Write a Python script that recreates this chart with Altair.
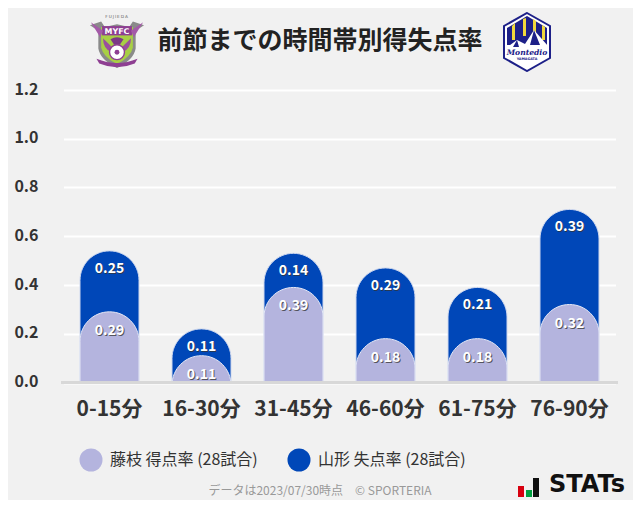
import altair as alt
import pandas as pd
from urllib.parse import quote

periods = ["0-15分", "16-30分", "31-45分", "46-60分", "61-75分", "76-90分"]
scored = [0.29, 0.11, 0.39, 0.18, 0.18, 0.32]
conceded = [0.25, 0.11, 0.14, 0.29, 0.21, 0.39]
y_ticks = [0, 0.2, 0.4, 0.6, 0.8, 1.0, 1.2]
title_text = "前節までの時間帯別得失点率"
legend_names = ["藤枝 得点率 (28試合)", "山形 失点率 (28試合)"]
footer_text = "データは2023/07/30時点　© SPORTERIA"
FONT = "Noto Sans CJK JP"
LIGHT, DARK = "#b4b4de", "#0047b8"
BG = "#f1f1f1"
OX, OY = 61, 90  # plot origin on the page

CREST_FUJIEDA = """<svg xmlns='http://www.w3.org/2000/svg' viewBox='0 0 60 60'>
<text x='30' y='5' font-size='4.6' letter-spacing='1' text-anchor='middle' font-family='DejaVu Sans' fill='#666'>FUJIEDA</text>
<path d='M1 13 L13 9 L17 15 L30 12 L43 15 L47 9 L59 13 L50 19 L50 38 Q48 50 30 59 Q12 50 10 38 L10 19 Z' fill='#8a8a8a'/>
<path d='M13 15 H47 V37 Q45 47 30 55 Q15 47 13 37 Z' fill='#a8cf45'/>
<rect x='14' y='14' width='32' height='10' fill='#8e3f92'/>
<text x='30' y='22.5' font-size='8.5' font-weight='bold' text-anchor='middle' font-family='DejaVu Sans' fill='#fff'>MYFC</text>
<path d='M2 10 L15 19 L12 26 Z M58 10 L45 19 L48 26 Z' fill='#a45aa8'/>
<path d='M15 27 Q15 38 24 42 L24 36 Z M45 27 Q45 38 36 42 L36 36 Z' fill='#9a4f9e'/>
<path d='M23 28 Q30 24 37 28 L33 34 H27 Z' fill='#7c3a86'/>
<circle cx='30' cy='42' r='8' fill='#fff' stroke='#8e3f92' stroke-width='1.5'/>
<circle cx='30' cy='42' r='2.6' fill='#8e3f92'/>
<path d='M8 49 Q30 58 52 49 L49 54 Q30 62 11 54 Z' fill='#8e3f92'/>
</svg>"""

CREST_MONTEDIO = """<svg xmlns='http://www.w3.org/2000/svg' viewBox='0 0 48 60'>
<path d='M24 1 L47 14 V46 L24 59 L1 46 V14 Z' fill='#fff' stroke='#1d2088' stroke-width='2'/>
<path d='M4 16 L24 4 L44 16 V33 H4 Z' fill='#1d2088'/>
<path d='M9 14 V28 H12 V11 Z M20 7 V24 H23 V6 Z M30 7 V24 H33 V9 Z M39 13 V28 H42 V15 Z' fill='#f0d83c'/>
<path d='M3 36 L14 28 L22 32 L31 18 L45 34 V36 Z' fill='#fff'/>
<path d='M14 28 L10 35 H16 Z M31 18 L27 33 H37 Z' fill='#1d2088'/>
<text x='24' y='43' font-size='7.6' font-weight='bold' font-style='italic' text-anchor='middle' font-family='DejaVu Serif' fill='#1d2088'>Montedio</text>
<text x='24' y='48' font-size='3.4' font-weight='bold' text-anchor='middle' font-family='DejaVu Sans' fill='#1d2088'>YAMAGATA</text>
</svg>"""

df = pd.DataFrame({"p": periods, "s": scored, "c": conceded})
df["total"] = [a + b for a, b in zip(scored, conceded)]
df["sl"] = [f"{v:.2f}" for v in scored]
df["cl"] = [f"{v:.2f}" for v in conceded]

x = alt.X("p:N", sort=periods, title=None,
          scale=alt.Scale(domain=periods, range=[2.5, 554.5], paddingInner=0, paddingOuter=0),
          axis=alt.Axis(labelFont=FONT, labelFontSize=21, labelFontWeight="bold", labelColor="#333333",
                        labelAngle=0, labelPadding=16, ticks=False, domain=False, grid=False))
yscale = alt.Scale(domain=[0, 1.2], nice=False)
y_axis = alt.Axis(values=y_ticks, format=".1f", labelFont=FONT, labelFontSize=16, labelFontWeight="bold",
                  labelColor="#333333", labelPadding=23, labelOffset=-1, ticks=False, domain=False,
                  grid=True, gridColor="#ffffff", gridWidth=2, title=None)

base = alt.Chart(df)
grid = base.mark_bar(opacity=0).encode(x=x, y=alt.Y("s:Q", scale=yscale, axis=y_axis))


def dome(field, color, stroke):
    return base.mark_bar(size=59, clip=True, color=color, stroke=stroke, strokeWidth=1,
                         cornerRadiusTopLeft=29.5, cornerRadiusTopRight=29.5).encode(
        x=alt.X("p:N", sort=periods),
        y=alt.Y(f"{field}:Q", scale=yscale),
        y2=alt.datum(-0.4),
    )


def labels(field, text, dy):
    shadow = base.mark_text(font=FONT, fontSize=14, fontWeight="bold", color="#333333", opacity=0.75,
                            dx=1, dy=dy + 1, baseline="middle").encode(
        x=alt.X("p:N", sort=periods), y=alt.Y(f"{field}:Q", scale=yscale), text=f"{text}:N")
    front = base.mark_text(font=FONT, fontSize=14, fontWeight="bold", color="#ffffff",
                           dy=dy, baseline="middle").encode(
        x=alt.X("p:N", sort=periods), y=alt.Y(f"{field}:Q", scale=yscale), text=f"{text}:N")
    return shadow + front


baseline = base.mark_rule(color="#d8d8d8", strokeWidth=2).encode(
    x=alt.value(0), x2=alt.value(557), y=alt.value(292.5))


def page_text(txt, px, py, size, color, weight="normal", align="left", font=FONT):
    return alt.Chart(pd.DataFrame({"t": [txt]})).mark_text(
        font=font, fontSize=size, fontWeight=weight, color=color, align=align, baseline="middle"
    ).encode(x=alt.value(px - OX), y=alt.value(py - OY), text="t:N")


def page_rect(x1, x2, y1, y2, color):
    return alt.Chart(pd.DataFrame({"a": [0]})).mark_rect(color=color).encode(
        x=alt.value(x1 - OX), x2=alt.value(x2 - OX), y=alt.value(y1 - OY), y2=alt.value(y2 - OY))


def page_dot(px, py, color):
    return alt.Chart(pd.DataFrame({"a": [0]})).mark_point(
        filled=True, color=color, opacity=1, size=530, shape="circle"
    ).encode(x=alt.value(px - OX), y=alt.value(py - OY))


def page_image(svg, px, py, w, h):
    uri = "data:image/svg+xml," + quote(svg)
    return alt.Chart(pd.DataFrame({"u": [uri]})).mark_image(width=w, height=h).encode(
        x=alt.value(px - OX), y=alt.value(py - OY), url="u:N")


chart = alt.layer(
    grid, dome("total", DARK, "#cfd8ee"), dome("s", LIGHT, "#e3e6f5"), baseline,
    labels("total", "cl", 18), labels("s", "sl", 19),
    page_image(CREST_FUJIEDA, 117, 41, 56, 56), page_image(CREST_MONTEDIO, 527, 42, 48, 60),
    page_text(title_text, 320, 41, 25, "#222222", "bold", "center"),
    page_dot(91, 460, LIGHT), page_text(legend_names[0], 110, 460, 16, "#333333"),
    page_dot(299, 460, DARK), page_text(legend_names[1], 318, 460, 16, "#333333"),
    page_text(footer_text, 320, 491, 12, "#999999", "normal", "center"),
    page_rect(518, 524, 486, 497, "#d7000f"), page_rect(526, 532, 490, 497, "#00a040"),
    page_rect(533, 539, 478, 497, "#111111"),
    page_text("STATs", 549, 485, 24, "#111111", "bold", "left", "DejaVu Sans"),
).properties(
    width=557, height=292.5, background=BG,
    padding={"left": OX - 8, "top": OY - 8, "right": 15, "bottom": 117.5},
    autosize=alt.AutoSizeParams(type="none"),
).configure_view(stroke=None)

chart.save("out.html", embed_options={"renderer": "svg", "actions": False})
